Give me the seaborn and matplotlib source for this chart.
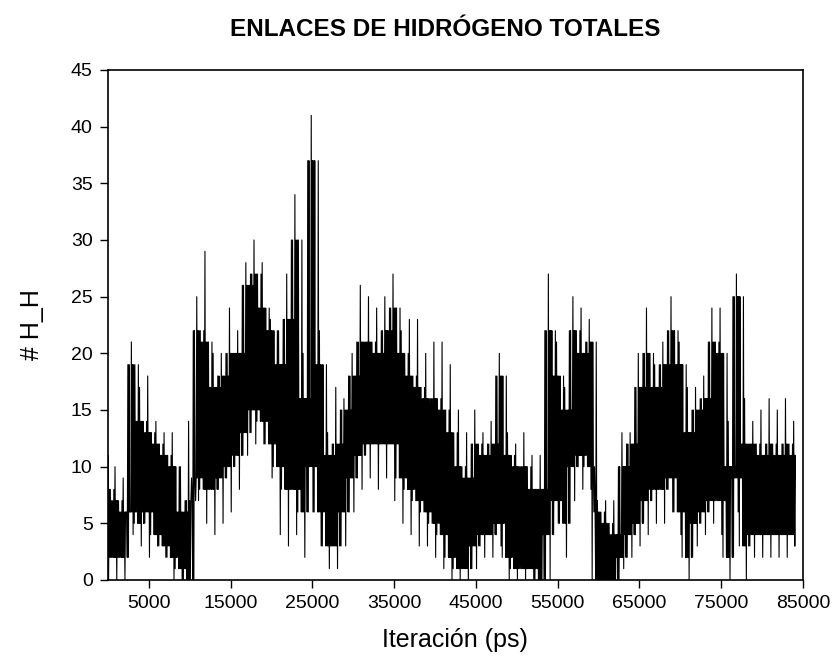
import numpy as np
import pandas as pd
import matplotlib
matplotlib.use("Agg")
import matplotlib.pyplot as plt
import seaborn as sns

# ---- data (per 1000 ps bin) ----
t_bins = list(range(0, 85000, 1000))
spike_hi = [11, 10, 9, 21, 17, 18, 14, 13, 13, 10, 14, 25, 29, 20, 20, 24, 22, 28, 30, 28,
            23, 22, 27, 34, 20, 41, 22, 13, 17, 16, 20, 26, 25, 24, 25, 27, 22, 23, 23, 20,
            21, 21, 19, 15, 13, 15, 13, 14, 20, 13, 12, 13, 11, 11, 27, 21, 17, 25, 24, 23,
            7, 7, 7, 13, 13, 20, 24, 19, 21, 25, 21, 17, 17, 18, 24, 24, 14, 27, 16, 14,
            15, 16, 15, 16, 14]
core_hi = [8, 7, 6, 19, 14, 13, 12, 11, 10, 6, 7, 22, 21, 17, 18, 20, 20, 26, 27, 24,
           22, 19, 23, 30, 16, 37, 19, 11, 12, 15, 18, 21, 21, 20, 22, 24, 20, 18, 17, 16,
           16, 15, 13, 10, 9, 12, 11, 12, 18, 11, 10, 10, 8, 8, 22, 18, 15, 22, 20, 21,
           6, 5, 4, 10, 12, 17, 20, 17, 19, 22, 19, 13, 15, 16, 21, 20, 10, 25, 12, 12,
           11, 12, 11, 12, 11]
core_lo = [2, 2, 2, 6, 5, 6, 4, 3, 2, 1, 0, 9, 8, 8, 9, 10, 11, 13, 15, 14,
           12, 10, 8, 8, 6, 10, 6, 3, 3, 6, 9, 11, 12, 12, 12, 12, 9, 8, 7, 6,
           5, 4, 2, 1, 1, 3, 4, 4, 5, 2, 1, 1, 1, 0, 4, 7, 5, 10, 11, 10,
           0, 0, 0, 2, 4, 5, 7, 8, 8, 9, 6, 2, 5, 6, 7, 7, 2, 9, 3, 4,
           4, 4, 4, 4, 4]
spike_lo = [0, 0, 0, 4, 3, 2, 3, 2, 0, 0, 0, 7, 5, 4, 5, 6, 8, 11, 12, 12,
            9, 4, 3, 4, 2, 6, 3, 1, 1, 3, 6, 8, 9, 8, 9, 7, 5, 4, 3, 3,
            2, 1, 0, 0, 0, 1, 2, 2, 3, 0, 0, 0, 0, 0, 0, 5, 2, 7, 8, 8,
            0, 0, 0, 1, 2, 3, 4, 5, 5, 6, 4, 0, 3, 4, 5, 4, 0, 6, 0, 2,
            2, 2, 2, 2, 3]
x_ticks = [5000, 15000, 25000, 35000, 45000, 55000, 65000, 75000, 85000]
y_ticks = [0, 5, 10, 15, 20, 25, 30, 35, 40, 45]
t_last = 84000   # last recorded iteration

# ---- build the dense trace: within each bin the line sweeps between the
#      read envelopes (spike max, core band, spike min); near the bin edges
#      it also touches the neighbouring bins' read core values ----
step = 1000
n = len(t_bins)
xs, ys = [], []
for i in range(n):
    p = max(i - 1, 0)
    q = min(i + 1, n - 1)
    seq = [core_lo[p], core_hi[i], core_lo[i], core_hi[p], core_lo[i], spike_hi[i],
           core_lo[i], core_hi[i], spike_lo[i], core_hi[i], core_lo[q], core_hi[i],
           core_lo[i], core_hi[q]]
    sub = step / len(seq)
    for k, v in enumerate(seq):
        xs.append(min(max(t_bins[i] - step / 2 + k * sub, 0), t_last))
        ys.append(v)
df = pd.DataFrame({"t": xs, "hb": ys})

sns.set_theme(style="white")
plt.rcParams['font.family'] = ['Liberation Sans', 'DejaVu Sans']

fig = plt.figure(figsize=(8.35, 6.57), dpi=100)
ax = fig.add_axes([108/835, 1 - 580/657, (803-108)/835, (580-70)/657])

sns.lineplot(data=df, x="t", y="hb", ax=ax, sort=False, estimator=None,
             color="black", linewidth=0.8)

ax.set_xlim(0, 85000)
ax.set_ylim(0, 45)
ax.set_xticks(x_ticks)
ax.set_xticklabels([str(v) for v in x_ticks], fontsize=14)
ax.set_yticks(y_ticks)
ax.set_yticklabels([str(v) for v in y_ticks], fontsize=14)
ax.tick_params(axis="both", which="both", direction="out", length=6, width=1,
               color="black", labelcolor="black", bottom=True, left=True,
               top=False, right=False, pad=5)
for s in ax.spines.values():
    s.set_visible(True)
    s.set_color("black")
    s.set_linewidth(1.2)
ax.set_xlabel("")
ax.set_ylabel("")
ax.grid(False)

fig.text(445/835, 1 - 29/657, "ENLACES DE HIDRÓGENO TOTALES", ha="center", va="center",
         fontsize=17.5, fontweight="bold", color="black")
fig.text(455/835, 1 - 640/657, "Iteración (ps)", ha="center", va="center",
         fontsize=18, color="black")
fig.text(32/835, 1 - 325/657, "# H_H", ha="center", va="center", rotation=90,
         fontsize=18, color="black")

fig.savefig("out.png", dpi=100, facecolor="white")
